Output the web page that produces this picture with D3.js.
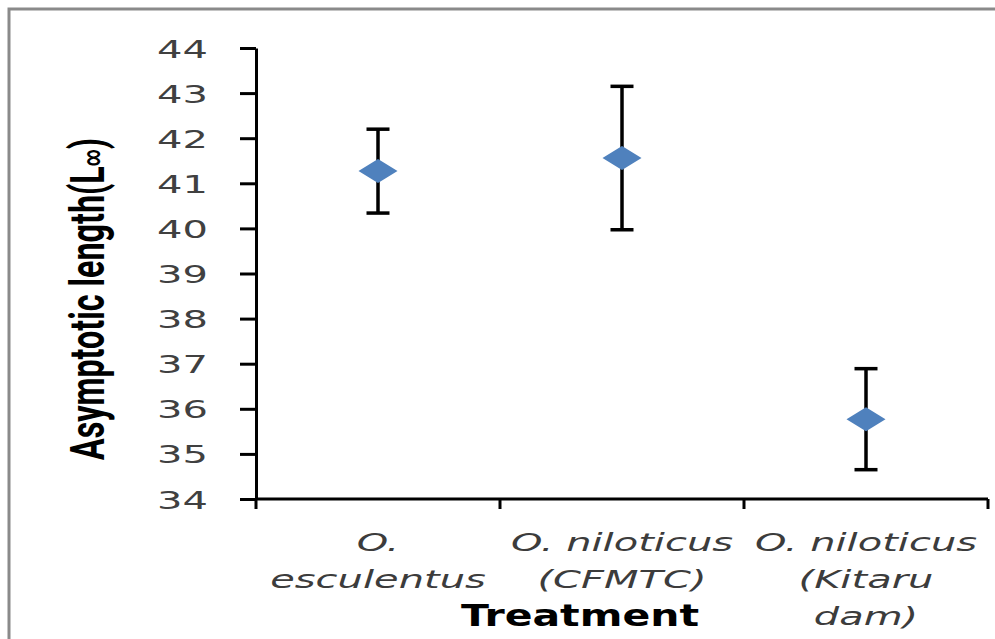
<!DOCTYPE html>
<html>
<head>
<meta charset="utf-8">
<script src="https://cdn.jsdelivr.net/npm/d3@7"></script>
<style>
  body { margin: 0; background: #fff; }
  svg { display: block; }
</style>
</head>
<body>
<div id="viz"></div>
<script>
const categories = [["O.", "esculentus"], ["O. niloticus", "(CFMTC)"], ["O. niloticus", "(Kitaru", "dam)"]];
const means = [41.27, 41.56, 35.77];
const errors = [0.93, 1.59, 1.12];
const yTicks = [34, 35, 36, 37, 38, 39, 40, 41, 42, 43, 44];

const width = 995, height = 639;
const stretch = 1.6; // the source picture is stretched sideways

const svg = d3.select("#viz").append("svg")
  .attr("width", width)
  .attr("height", height);

// grey frame, cut off on the right and bottom
svg.append("path")
  .attr("d", `M9,${height} V9 H${width}`)
  .attr("fill", "none")
  .attr("stroke", "#8a8a8a")
  .attr("stroke-width", 3);

const y = d3.scaleLinear().domain([34, 44]).range([499, 48]);
const x = d3.scaleBand().domain(d3.range(categories.length)).range([256, 988]);

// y axis
const yAxis = svg.append("g")
  .attr("transform", "translate(256,0)")
  .call(d3.axisLeft(y).tickValues(yTicks).tickSize(16).tickSizeOuter(0).tickPadding(32));
yAxis.select(".domain").attr("stroke", "#000").attr("stroke-width", 3);
yAxis.selectAll(".tick line").attr("stroke", "#000").attr("stroke-width", 3);
yAxis.selectAll(".tick text")
  .attr("x", 0)
  .attr("dy", "0.36em")
  .attr("transform", `translate(-48,0) scale(${stretch},1)`)
  .style("font-family", "DejaVu Sans")
  .style("font-size", "25px")
  .attr("fill", "#404040");

// x axis with ticks on category boundaries
svg.append("line")
  .attr("x1", x.range()[0]).attr("x2", x.range()[1])
  .attr("y1", y(34)).attr("y2", y(34))
  .attr("stroke", "#000").attr("stroke-width", 3);
const bounds = x.domain().map(d => x(d)).concat([x.range()[1]]);
svg.selectAll(".xtick")
  .data(bounds)
  .join("line")
  .attr("class", "xtick")
  .attr("x1", d => d).attr("x2", d => d)
  .attr("y1", y(34)).attr("y2", y(34) + 10)
  .attr("stroke", "#000").attr("stroke-width", 3);

// category labels
const catG = svg.selectAll(".cat")
  .data(categories)
  .join("g")
  .attr("class", "cat")
  .attr("transform", (d, i) => `translate(${x(i) + x.bandwidth() / 2},0)`);
catG.selectAll("text")
  .data(d => d)
  .join("text")
  .attr("text-anchor", "middle")
  .attr("transform", (d, j) => `translate(0,${551 + j * 37}) scale(${stretch},1)`)
  .style("font-family", "DejaVu Sans")
  .style("font-style", "italic")
  .style("font-size", "25px")
  .attr("fill", "#3c3c3c")
  .text(d => d);

// axis titles
svg.append("text")
  .attr("x", 580)
  .attr("y", 626)
  .attr("text-anchor", "middle")
  .attr("textLength", 238)
  .attr("lengthAdjust", "spacingAndGlyphs")
  .style("font-family", "DejaVu Sans")
  .style("font-weight", "bold")
  .style("font-size", "31px")
  .attr("fill", "#000")
  .text("Treatment");

const yTitle = svg.append("text")
  .attr("transform", "translate(104,299) rotate(-90)")
  .attr("text-anchor", "middle")
  .attr("textLength", 322)
  .attr("lengthAdjust", "spacingAndGlyphs")
  .style("font-family", "Roboto")
  .style("font-weight", "bold")
  .style("font-size", "48px")
  .attr("fill", "#000");
yTitle.append("tspan").text("Asymptotic length(L");
yTitle.append("tspan").style("font-size", "24px").attr("dy", -4).text("∞");
yTitle.append("tspan").attr("dy", 4).text(")");

// error bars
const cx = i => x(i) + x.bandwidth() / 2;
const capW = 23;
const bars = svg.selectAll(".err")
  .data(means)
  .join("g")
  .attr("class", "err")
  .attr("stroke", "#000")
  .attr("stroke-width", 3.5);
bars.append("line")
  .attr("x1", (d, i) => cx(i)).attr("x2", (d, i) => cx(i))
  .attr("y1", (d, i) => y(d + errors[i])).attr("y2", (d, i) => y(d - errors[i]));
bars.append("line")
  .attr("x1", (d, i) => cx(i) - capW / 2).attr("x2", (d, i) => cx(i) + capW / 2)
  .attr("y1", (d, i) => y(d + errors[i])).attr("y2", (d, i) => y(d + errors[i]));
bars.append("line")
  .attr("x1", (d, i) => cx(i) - capW / 2).attr("x2", (d, i) => cx(i) + capW / 2)
  .attr("y1", (d, i) => y(d - errors[i])).attr("y2", (d, i) => y(d - errors[i]));

// diamond markers
const hw = 19.5, hh = 12;
svg.selectAll(".pt")
  .data(means)
  .join("path")
  .attr("class", "pt")
  .attr("d", (d, i) => {
    const px = cx(i), py = y(d);
    return `M${px - hw},${py} L${px},${py - hh} L${px + hw},${py} L${px},${py + hh} Z`;
  })
  .attr("fill", "#4f81bd");
</script>
</body>
</html>
